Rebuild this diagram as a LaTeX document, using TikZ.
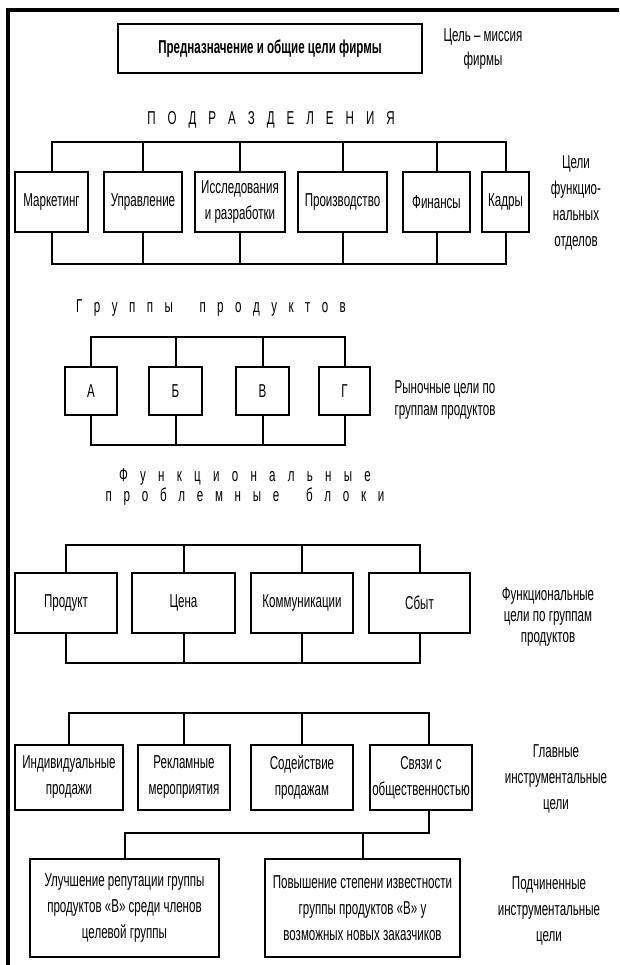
\documentclass[tikz,border=0pt]{standalone}
\usepackage{fontspec}
\setmainfont{Liberation Sans}[FakeStretch=0.62]
\newcommand{\fs}{\fontsize{14}{19.5}\selectfont}
\newcommand{\fsl}{\fontsize{14}{16}\selectfont}
\newcommand{\fsm}{\fontsize{14}{18.5}\selectfont}
\newcommand{\bx}[7][]{%
  \pgfmathsetmacro\bxw{(#5-#3)*0.75}%
  \pgfmathsetmacro\bxh{(#6-#4)*0.75}%
  \node[box, minimum width=\bxw pt, minimum height=\bxh pt, #1] (#2) at ({(#3+#5)/2},{(#4+#6)/2}) {#7};}
\newcommand{\spc}[2]{{\spaceskip=#1\relax #2}}
\begin{document}
\begin{tikzpicture}[x=0.75pt,y=-0.75pt,
  box/.style={draw, line width=1.5pt, inner sep=0pt, align=center, font=\fs},
  conn/.style={line width=1.5pt},
  lbl/.style={align=center, inner sep=0pt},
  frame/.style={line width=3pt}]
\useasboundingbox (0,0) rectangle (619,965);
% frame
\coordinate (fTR) at (619,10);
\coordinate (fTL) at (8,10);
\coordinate (fBL) at (8,965);
\draw[frame] (fTR) -- (fTL) -- (fBL);

% top box
\bx[font=\fs\bfseries]{mn}{118}{24}{422}{73}{Предназначение и общие цели фирмы}
\node[lbl, font=\fsm] (lmn) at (483,49) {Цель\,–\,миссия\\фирмы};

% departments
\node[lbl, font=\fs] (hpd) at (271,120) {\spc{9.0pt}{П О Д Р А З Д Е Л Е Н И Я}};
\bx{mk}{15}{172}{88}{232}{Маркетинг}
\bx{upr}{104}{172}{182}{232}{Управление}
\bx{ir}{195}{172}{285}{232}{Исследования\\и разработки}
\bx{pr}{298}{172}{387}{232}{Производство}
\bx{fn}{403}{172}{470}{232}{Финансы}
\bx{kd}{482}{172}{529}{232}{Кадры}
\coordinate (bA) at (0,142);
\coordinate (bB) at (0,264);
\draw[conn] (mk.north) -- (mk.north |- bA) -- (kd.north |- bA) -- (kd.north);
\foreach \n in {upr,ir,pr,fn} \draw[conn] (\n.north) -- (\n.north |- bA);
\draw[conn] (mk.south) -- (mk.south |- bB) -- (kd.south |- bB) -- (kd.south);
\foreach \n in {upr,ir,pr,fn} \draw[conn] (\n.south) -- (\n.south |- bB);
\node[lbl, font=\fs] (lpd) at (576,203) {Цели\\функцио-\\нальных\\отделов};

% product groups
\node[lbl, font=\fs] (hgp) at (211,308) {\spc{8.6pt}{Г р у п п ы\hspace{20pt}п р о д у к т о в}};
\bx{ga}{65}{367}{117}{415}{А}
\bx{gb}{149}{367}{202}{415}{Б}
\bx{gv}{236}{367}{289}{415}{В}
\bx{gg}{319}{367}{370}{415}{Г}
\coordinate (bC) at (0,337);
\coordinate (bD) at (0,445);
\draw[conn] (ga.north) -- (ga.north |- bC) -- (gg.north |- bC) -- (gg.north);
\foreach \n in {gb,gv} \draw[conn] (\n.north) -- (\n.north |- bC);
\draw[conn] (ga.south) -- (ga.south |- bD) -- (gg.south |- bD) -- (gg.south);
\foreach \n in {gb,gv} \draw[conn] (\n.south) -- (\n.south |- bD);
\node[lbl, font=\fsl] (lgp) at (445,400) {Рыночные цели по\\группам продуктов};

% functional blocks
\node[lbl, font=\fs] (hf1) at (245,477) {\spc{9.2pt}{Ф у н к ц и о н а л ь н ы е}};
\node[lbl, font=\fs] (hf2) at (245,497) {\spc{8.8pt}{п р о б л е м н ы е\hspace{20pt}б л о к и}};
\bx{fp}{15}{573}{117}{633}{Продукт}
\bx{fc}{132}{573}{235}{633}{Цена}
\bx{fk}{251}{573}{353}{633}{Коммуникации}
\bx{fs}{369}{573}{470}{633}{Сбыт}
\coordinate (bE) at (0,545);
\coordinate (bF) at (0,663);
\draw[conn] (fp.north) -- (fp.north |- bE) -- (fs.north |- bE) -- (fs.north);
\foreach \n in {fc,fk} \draw[conn] (\n.north) -- (\n.north |- bE);
\draw[conn] (fp.south) -- (fp.south |- bF) -- (fs.south |- bF) -- (fs.south);
\foreach \n in {fc,fk} \draw[conn] (\n.south) -- (\n.south |- bF);
\node[lbl, font=\fsl] (lfb) at (548,617) {Функциональные\\цели по группам\\продуктов};

% main instrumental goals
\bx{ii}{15}{745}{123}{810}{Индивидуальные\\продажи}
\bx{rm}{138}{745}{230}{810}{Рекламные\\мероприятия}
\bx{sp}{251}{745}{353}{810}{Содействие\\продажам}
\bx{so}{370}{745}{472}{810}{Связи с\\общественностью}
\coordinate (bG) at (0,713);
\coordinate (bH) at (0,833);
\draw[conn] (ii.north) -- (ii.north |- bG) -- ([xshift=6pt]so.north |- bG) -- ([xshift=6pt]so.north);
\foreach \n in {rm,sp} \draw[conn] (\n.north) -- (\n.north |- bG);
\node[lbl, font=\fs] (lmi) at (556,779) {Главные\\инструментальные\\цели};

% subordinate goals
\bx{s1}{30}{859}{219}{957}{Улучшение репутации группы\\продуктов «В» среди членов\\целевой группы}
\bx{s2}{265}{859}{460}{957}{Повышение степени известности\\группы продуктов «В» у\\возможных новых заказчиков}
\draw[conn] ([xshift=6pt]so.south) -- ([xshift=6pt]so.south |- bH) -- (s1.north |- bH) -- (s1.north);
\draw[conn] (s2.north) -- (s2.north |- bH);
\node[lbl, font=\fs] (lsi) at (549,911) {Подчиненные\\инструментальные\\цели};
\end{tikzpicture}
\end{document}
